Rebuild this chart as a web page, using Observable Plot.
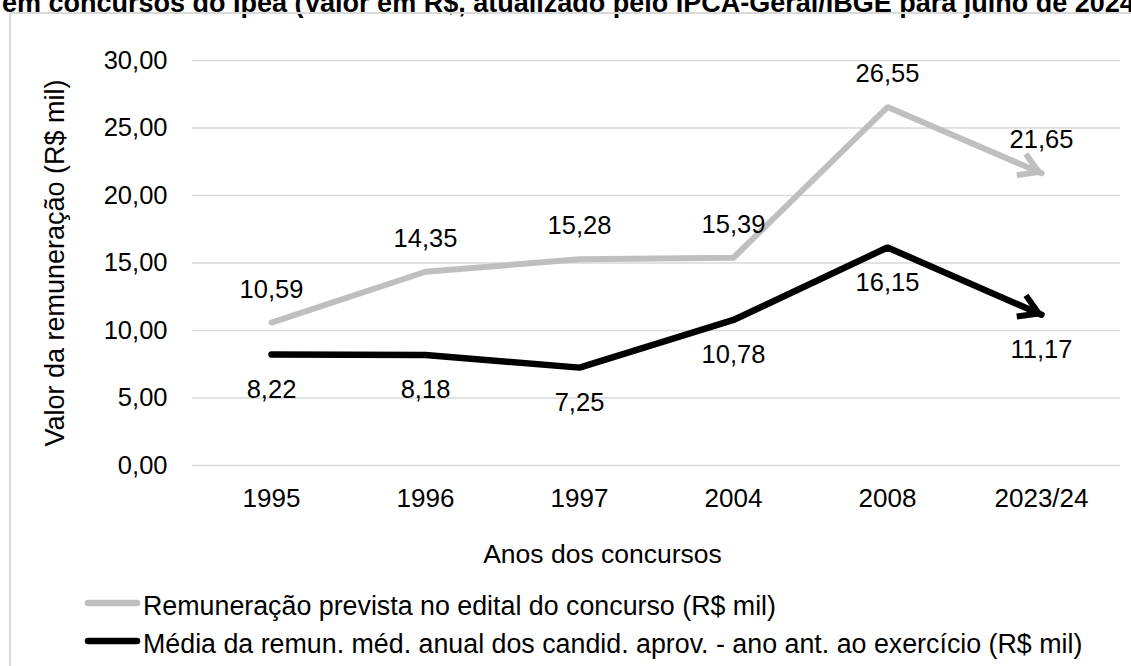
<!DOCTYPE html>
<html>
<head>
<meta charset="utf-8">
<script src="https://cdn.jsdelivr.net/npm/d3@7"></script>
<script src="https://cdn.jsdelivr.net/npm/@observablehq/plot@0.6"></script>
<style>
  html, body { margin: 0; padding: 0; background: #fff; }
  body { width: 1131px; height: 666px; overflow: hidden; position: relative; font-family: "Liberation Sans", Arial, sans-serif; color: #000; }
  #title { position: absolute; left: 2px; top: -10px; font-size: 27px; line-height: 27px; font-weight: bold; white-space: nowrap; }
  #box { position: absolute; left: 9px; top: 12px; width: 1200px; height: 800px; border: 2px solid #d9d9d9; box-sizing: border-box; }
  #chart { position: absolute; left: 0; top: 0; }
  .leg { position: absolute; left: 82px; display: flex; align-items: flex-start; white-space: nowrap; font-size: 26.8px; line-height: 26.8px; }
  .leg svg { display: block; }
</style>
</head>
<body>
<div id="title"></div>
<div id="box"></div>
<div id="chart"></div>
<div id="legend"></div>
<script>
// ---- data ----
const titleText = "em concursos do Ipea (Valor em R$, atualizado pelo IPCA-Geral/IBGE para julho de 2024)";
const categories = ["1995", "1996", "1997", "2004", "2008", "2023/24"];
const editalValues = [10.59, 14.35, 15.28, 15.39, 26.55, 21.65];
const mediaValues = [8.22, 8.18, 7.25, 10.78, 16.15, 11.17];
const yTicks = [0, 5, 10, 15, 20, 25, 30];
const seriesNames = [
  "Remuneração prevista no edital do concurso (R$ mil)",
  "Média da remun. méd. anual dos candid. aprov. - ano ant. ao exercício (R$ mil)"
];
const xLabel = "Anos dos concursos";
const yLabel = "Valor da remuneração (R$ mil)";
const seriesColors = ["#bfbfbf", "#000000"];

// ---- build ----
const fmt = d => d.toFixed(2).replace(".", ",");
const edital = categories.map((c, i) => ({cat: c, value: editalValues[i]}));
const media = categories.map((c, i) => ({cat: c, value: mediaValues[i]}));

document.getElementById("title").textContent = titleText;

function arrowMarker(color) {
  const m = d3.create("svg:marker")
    .attr("viewBox", "-28 -15 34 30")
    .attr("markerWidth", 34)
    .attr("markerHeight", 30)
    .attr("markerUnits", "userSpaceOnUse")
    .attr("refX", 0)
    .attr("refY", 0)
    .attr("orient", "auto")
    .attr("overflow", "visible");
  m.append("path")
    .attr("d", "M-22,-11.5L-3,0L-22,11.5")
    .attr("fill", "none")
    .attr("stroke", color)
    .attr("stroke-width", 6)
    .attr("stroke-linejoin", "miter")
    .attr("stroke-linecap", "butt");
  return m.node();
}

const chart = Plot.plot({
  width: 1131,
  height: 575,
  marginLeft: 192,
  marginRight: 11,
  marginTop: 60,
  marginBottom: 110,
  style: {fontFamily: '"Liberation Sans", Arial, sans-serif', color: "#000", background: "transparent", overflow: "visible"},
  x: {type: "point", domain: categories, padding: 0.5},
  y: {domain: [0, 30]},
  marks: [
    Plot.gridY(yTicks, {stroke: "#d9d9d9", strokeOpacity: 1, strokeWidth: 1.5}),
    Plot.axisY(yTicks, {tickSize: 0, tickPadding: 25, tickFormat: fmt, fontSize: 25.5, label: null}),
    Plot.axisX({tickSize: 0, tickPadding: 23, fontSize: 26, label: null}),
    Plot.line(edital, {x: "cat", y: "value", stroke: seriesColors[0], strokeWidth: 6, strokeLinejoin: "miter", markerEnd: arrowMarker}),
    Plot.line(media, {x: "cat", y: "value", stroke: seriesColors[1], strokeWidth: 6.5, strokeLinejoin: "miter", markerEnd: arrowMarker}),
    Plot.text(edital, {x: "cat", y: "value", text: d => fmt(d.value), dy: -33, fontSize: 25.5, fill: "#000"}),
    Plot.text(media, {x: "cat", y: "value", text: d => fmt(d.value), dy: 35, fontSize: 25.5, fill: "#000"}),
    Plot.text([xLabel], {frameAnchor: "bottom", textAnchor: "middle", lineAnchor: "bottom", dx: -54, dy: 97, fontSize: 26.5, fill: "#000"}),
    Plot.text([yLabel], {frameAnchor: "left", textAnchor: "middle", lineAnchor: "bottom", rotate: -90, dx: -129, fontSize: 27, fill: "#000"})
  ]
});
document.getElementById("chart").appendChild(chart);

// ---- legend ----
const legend = document.getElementById("legend");
const legTops = [593, 631];
seriesNames.forEach((name, i) => {
  const row = document.createElement("div");
  row.className = "leg";
  row.style.top = legTops[i] + "px";
  const sw = d3.create("svg").attr("width", 61).attr("height", 26);
  sw.append("line").attr("x1", 6).attr("x2", 55).attr("y1", 10).attr("y2", 10)
    .attr("stroke", seriesColors[i]).attr("stroke-width", 6.5).attr("stroke-linecap", "round");
  row.appendChild(sw.node());
  const t = document.createElement("span");
  t.textContent = name;
  row.appendChild(t);
  legend.appendChild(row);
});
</script>
</body>
</html>
